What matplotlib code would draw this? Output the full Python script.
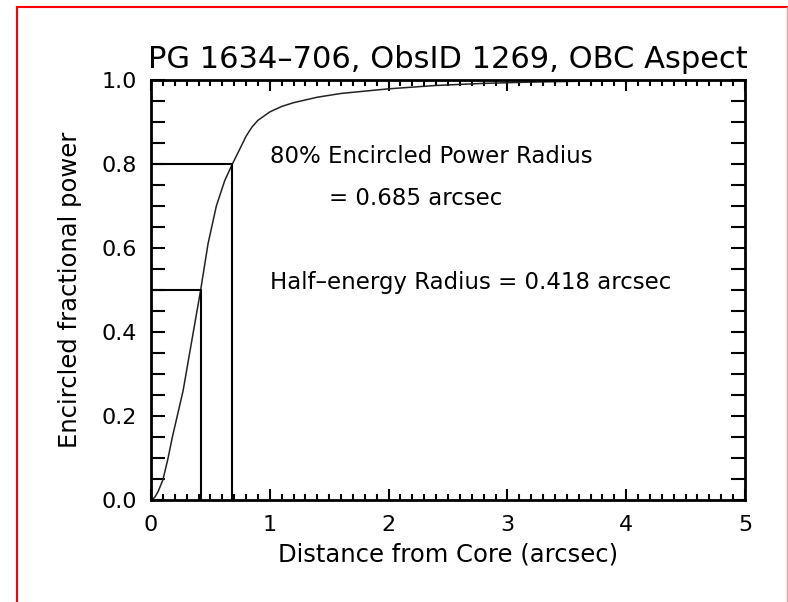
import matplotlib.pyplot as plt
from matplotlib.lines import Line2D
from matplotlib.ticker import MultipleLocator

# encircled power curve
radius = [0, 0.03, 0.06, 0.1, 0.14, 0.18, 0.27, 0.35, 0.418, 0.48, 0.55, 0.62,
          0.685, 0.75, 0.80, 0.85, 0.9, 1.0, 1.1, 1.2, 1.4, 1.6, 2.0, 2.4, 2.8,
          3.2, 3.6, 4.0, 4.2, 5.0]
frac = [0, 0.006, 0.02, 0.048, 0.095, 0.15, 0.26, 0.39, 0.5, 0.61, 0.70, 0.76,
        0.80, 0.837, 0.866, 0.888, 0.904, 0.924, 0.937, 0.946, 0.959, 0.968,
        0.979, 0.987, 0.992, 0.995, 0.997, 0.999, 1.0, 1.0]

half_r, half_f = 0.418, 0.5
r80, f80 = 0.685, 0.8

plt.rcParams['font.family'] = ['DejaVu Sans']

fig = plt.figure(figsize=(7.88, 6.02), dpi=100)
ax = fig.add_axes([151/788, 102/602, 594/788, 420/602])

ax.plot(radius, frac, color='#222222', lw=1.1)
# marker lines for the two radii
ax.plot([0, half_r, half_r], [half_f, half_f, 0], color='black', lw=1.5)
ax.plot([0, r80, r80], [f80, f80, 0], color='black', lw=1.5)

ax.text(1.0, 0.819, '80% Encircled Power Radius', fontsize=16.5, va='center')
ax.text(1.5, 0.719, '= 0.685 arcsec', fontsize=16.5, va='center')
ax.text(1.0, 0.517, 'Half\u2013energy Radius = 0.418 arcsec', fontsize=16.5, va='center')

ax.set_xlim(0, 5)
ax.set_ylim(0, 1)
ax.xaxis.set_major_locator(MultipleLocator(1))
ax.xaxis.set_minor_locator(MultipleLocator(0.1))
ax.yaxis.set_minor_locator(MultipleLocator(0.05))
ax.set_yticks([0, 0.2, 0.4, 0.6, 0.8, 1.0])
ax.set_yticklabels(['0.0', '0.2', '0.4', '0.6', '0.8', '1.0'])

ax.tick_params(which='both', direction='in', top=True, right=True,
               labelsize=16, colors='black', width=1.5)
ax.tick_params(axis='x', which='major', length=8, pad=11)
ax.tick_params(axis='x', which='minor', length=4)
ax.tick_params(axis='y', which='both', length=10, pad=10)
for s in ax.spines.values():
    s.set_linewidth(2)

ax.set_xlabel('Distance from Core (arcsec)', fontsize=17.5, labelpad=5)
ax.set_ylabel('Encircled fractional power', fontsize=17.5, labelpad=14)
ax.set_title('PG 1634\u2013706, ObsID 1269, OBC Aspect', fontsize=22, pad=9)

# red frame around the figure
fig.add_artist(Line2D([17/788, 17/788], [0, 1 - 7/602], color='red', lw=1.5))
fig.add_artist(Line2D([17/788, 1], [1 - 7/602, 1 - 7/602], color='red', lw=1.5))
fig.add_artist(Line2D([786.5/788, 786.5/788], [0, 1 - 7/602], color='#f0a0a0', lw=1))

fig.savefig('out.png', dpi=100)
